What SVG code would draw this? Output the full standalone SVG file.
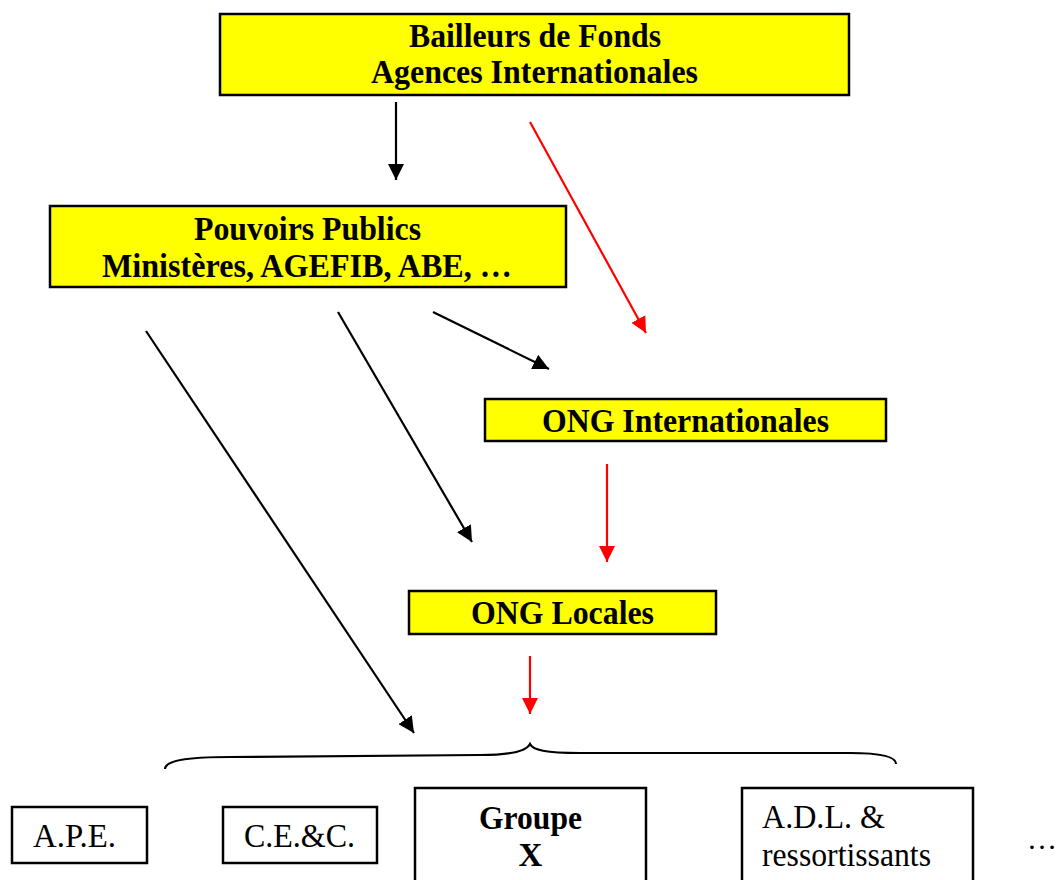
<svg xmlns="http://www.w3.org/2000/svg" width="1058" height="880" viewBox="0 0 1058 880">
<style>
.box{fill:#ffff00;stroke:#000;stroke-width:2.5}
.wbox{fill:#fff;stroke:#000;stroke-width:2.5}
.t{font-family:"Liberation Serif","Times New Roman",serif;font-size:33px;fill:#000}
.b{font-weight:bold}
.m{text-anchor:middle}
.blk{stroke:#000;stroke-width:2.2;fill:none}
.red{stroke:#ff0000;stroke-width:2.2;fill:none}
</style>
<defs>
<marker id="ab" markerUnits="userSpaceOnUse" markerWidth="18" markerHeight="16" refX="16" refY="8" orient="auto">
<path d="M0,0 L16,8 L0,16 Z" fill="#000"/>
</marker>
<marker id="ar" markerUnits="userSpaceOnUse" markerWidth="18" markerHeight="16" refX="16" refY="8" orient="auto">
<path d="M0,0 L16,8 L0,16 Z" fill="#ff0000"/>
</marker>
</defs>
<rect width="1058" height="880" fill="#fff"/>
<g id="connectors">
<line class="blk" x1="396" y1="102" x2="396" y2="180" marker-end="url(#ab)"/>
<line class="red" x1="530" y1="122" x2="646" y2="333" marker-end="url(#ar)"/>
<line class="blk" x1="433" y1="312" x2="549" y2="369" marker-end="url(#ab)"/>
<line class="blk" x1="338" y1="312" x2="472" y2="542" marker-end="url(#ab)"/>
<line class="blk" x1="146" y1="331" x2="414" y2="733" marker-end="url(#ab)"/>
<line class="red" x1="607" y1="464" x2="607" y2="562" marker-end="url(#ar)"/>
<line class="red" x1="530" y1="656" x2="530" y2="714" marker-end="url(#ar)"/>
<path class="blk" d="M165,769 C165,761 185,757 230,757 L480,755 C515,755 527,750 530,744 C533,750 545,753 580,753 L850,753 C885,753 896,758 896,764"/>
</g>
<g id="bailleurs">
<rect class="box" x="220" y="14" width="629" height="81"/>
<text class="t b m" x="535" y="47" textLength="252" lengthAdjust="spacingAndGlyphs">Bailleurs de Fonds</text>
<text class="t b m" x="534.5" y="83" textLength="327" lengthAdjust="spacingAndGlyphs">Agences Internationales</text>
</g>
<g id="pouvoirs">
<rect class="box" x="50" y="206" width="516" height="81"/>
<text class="t b m" x="307.5" y="240" textLength="227" lengthAdjust="spacingAndGlyphs">Pouvoirs Publics</text>
<text class="t b m" x="307" y="277" textLength="410" lengthAdjust="spacingAndGlyphs">Ministères, AGEFIB, ABE, …</text>
</g>
<g id="ong-internationales">
<rect class="box" x="485" y="399" width="401" height="42"/>
<text class="t b m" x="685.5" y="432" textLength="287" lengthAdjust="spacingAndGlyphs">ONG Internationales</text>
</g>
<g id="ong-locales">
<rect class="box" x="409" y="591" width="307" height="43"/>
<text class="t b m" x="562.5" y="624" textLength="183" lengthAdjust="spacingAndGlyphs">ONG Locales</text>
</g>
<g id="ape">
<rect class="wbox" x="12" y="807" width="135" height="56"/>
<text class="t" x="33" y="847" textLength="83" lengthAdjust="spacingAndGlyphs">A.P.E.</text>
</g>
<g id="cec">
<rect class="wbox" x="223" y="807" width="154" height="56"/>
<text class="t m" x="299.5" y="847" textLength="111" lengthAdjust="spacingAndGlyphs">C.E.&amp;C.</text>
</g>
<g id="groupe-x">
<rect class="wbox" x="415" y="788" width="231" height="100"/>
<text class="t b m" x="530.5" y="829" textLength="103" lengthAdjust="spacingAndGlyphs">Groupe</text>
<text class="t b m" x="530.5" y="866">X</text>
</g>
<g id="adl">
<rect class="wbox" x="742" y="788" width="231" height="100"/>
<text class="t" x="762" y="828" textLength="123" lengthAdjust="spacingAndGlyphs">A.D.L. &amp;</text>
<text class="t" x="762" y="866" textLength="169" lengthAdjust="spacingAndGlyphs">ressortissants</text>
</g>
<g id="etc">
<text class="t" x="1027" y="849" style="font-size:30px">…</text>
</g>
</svg>
